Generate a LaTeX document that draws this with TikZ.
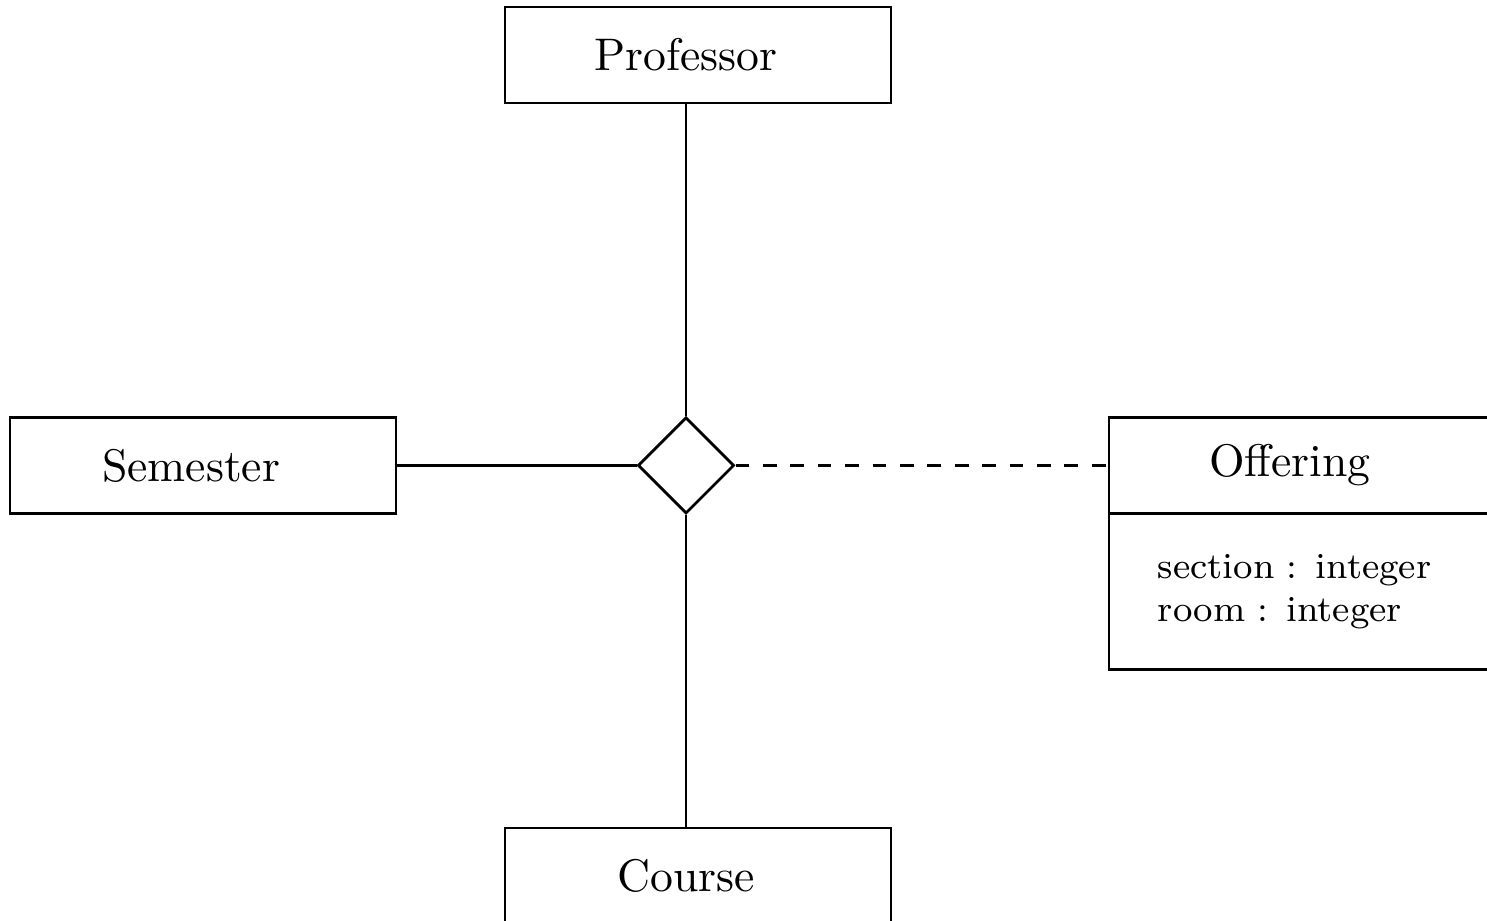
\documentclass[tikz,border=0pt]{standalone}
\usepackage{amsmath,amssymb}
\usepackage{tikz}
\usetikzlibrary{shapes.geometric, positioning}

\begin{document}
\begin{tikzpicture}[auto, semithick, classbox/.style={draw, rectangle, minimum width=2.97cm, minimum height=0.74cm, inner sep=0pt}, relation/.style={draw, diamond, minimum width=0.74cm, minimum height=0.74cm, inner sep=0pt}, attrbox/.style={draw, rectangle, minimum height=1.2cm, text width=2.216cm, inner xsep=0.377cm, inner ysep=0pt, align=left, font=\footnotesize}]
		\useasboundingbox (0,0) rectangle (11.438,-7.077);
		\node[relation]	(offers)	at (5.277,-3.58)	{};
		\node[classbox]	(professor)	at (5.369,-0.423)	{Professor\hspace*{0.185cm}};
		\node[classbox]	(semester)	at (1.562,-3.58)	{Semester\hspace*{0.185cm}};
		\node[classbox]	(course)	at (5.369,-6.738)	{Course\hspace*{0.185cm}};
		\node[classbox]	(offering)	at (10.015,-3.58)	{Offering\hspace*{0.185cm}};
		\node[attrbox]	(attrs)[below=-0.6pt of offering]{section : integer\\room : integer};
		\path
		(offers.north)	edge	(offers.north |- professor.south)
		(offers.south)	edge	(offers.south |- course.north)
		(semester)	edge	(offers)
		(offers)	edge[dashed]	(offering);
\end{tikzpicture}
\end{document}
